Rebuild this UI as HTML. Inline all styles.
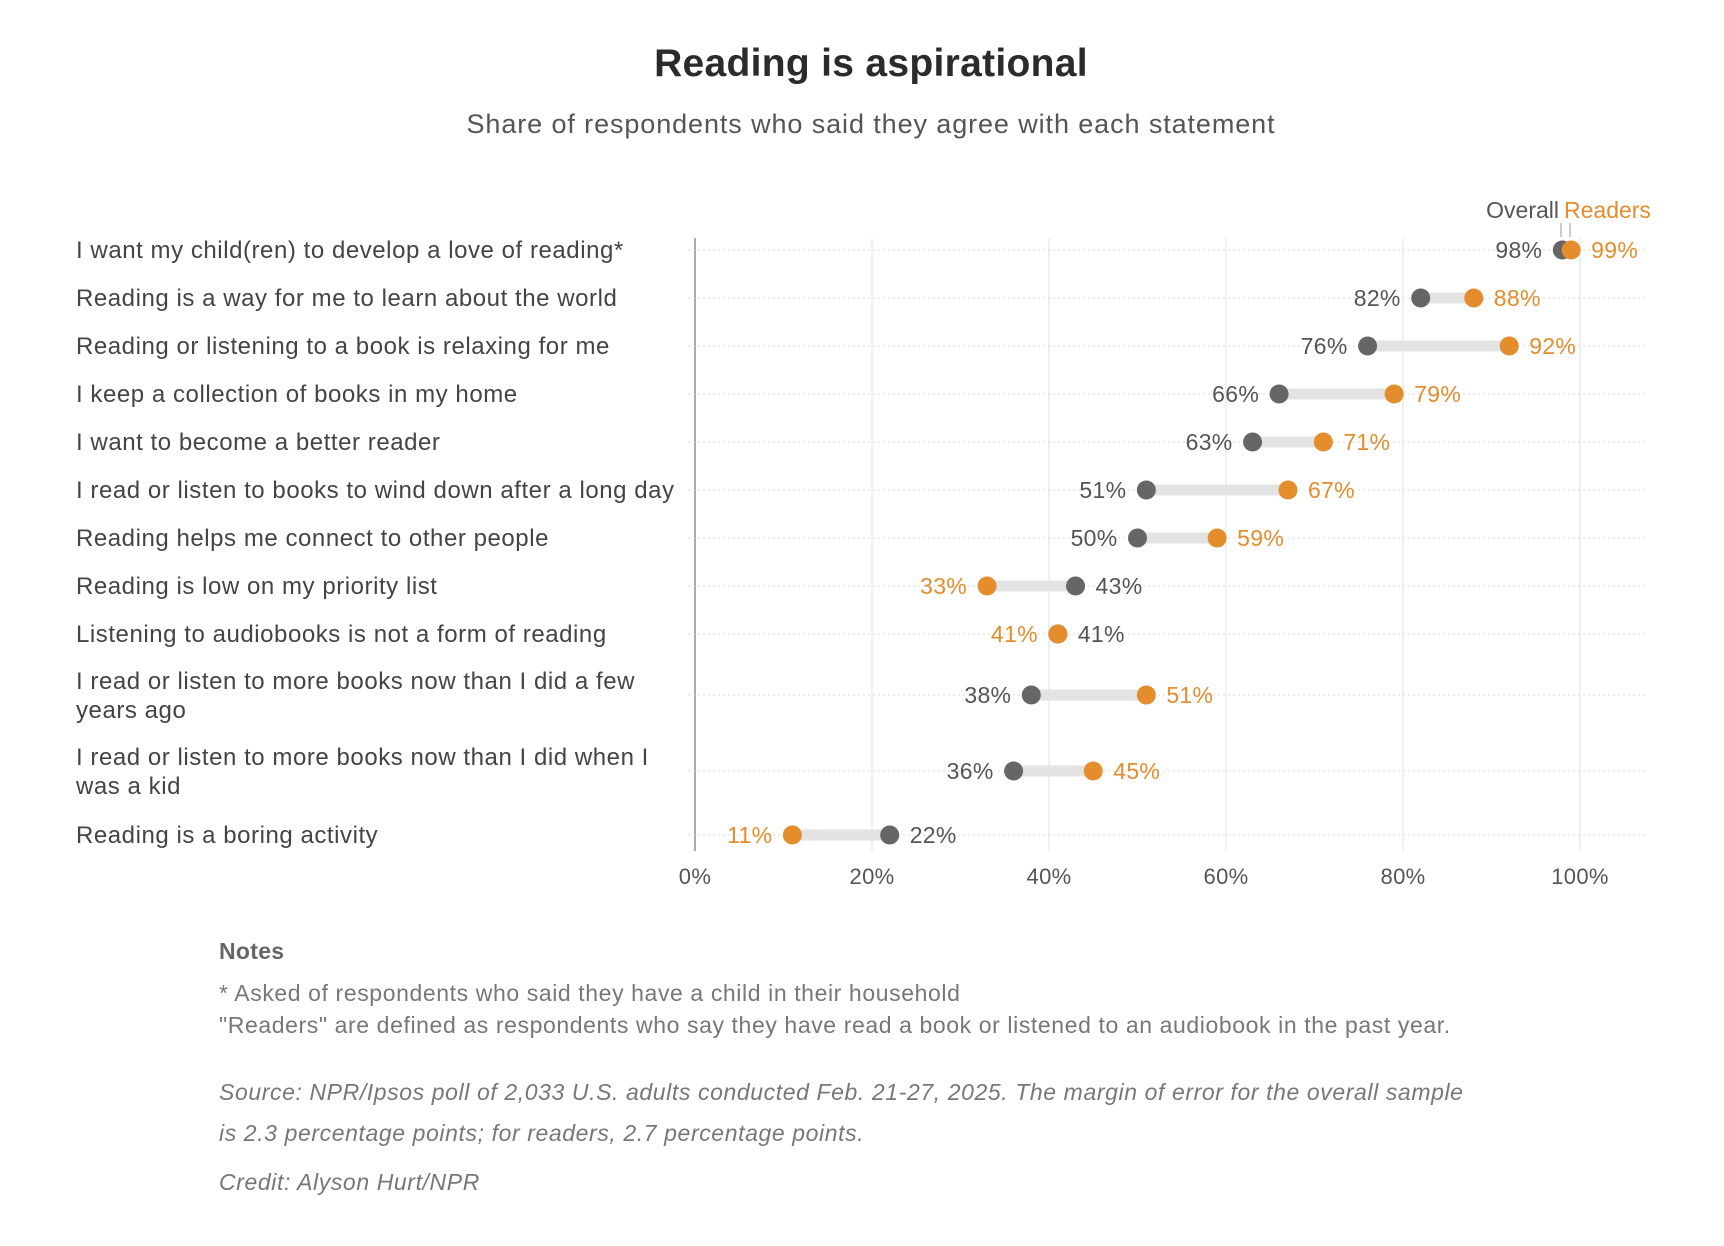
<!DOCTYPE html>
<html><head><meta charset="utf-8">
<style>
body{margin:0;background:#fff;font-family:"Liberation Sans",sans-serif;}
svg text{font-family:"Liberation Sans",sans-serif;}
</style></head>
<body>
<svg id="chart" width="1724" height="1241" viewBox="0 0 1724 1241" xmlns="http://www.w3.org/2000/svg">
<text x="871" y="76" text-anchor="middle" font-size="39" font-weight="bold" fill="#2b2b2b" letter-spacing="0.3">Reading is aspirational</text>
<text x="871" y="133" text-anchor="middle" font-size="27" fill="#555" letter-spacing="0.9">Share of respondents who said they agree with each statement</text>
<g>
<text x="1559" y="218" text-anchor="end" font-size="23" fill="#555">Overall</text>
<text x="1564" y="218" font-size="23" fill="#e38d2c">Readers</text>
<line x1="1561" y1="223" x2="1561" y2="237" stroke="#999" stroke-width="1"/>
<line x1="1570" y1="223" x2="1570" y2="237" stroke="#999" stroke-width="1"/>
</g>
<g id="grid"></g>
<g id="rows"></g>
<g id="xticks"></g>
<g font-size="23" fill="#777" letter-spacing="0.6">
<text x="219" y="959" font-weight="bold" fill="#666" letter-spacing="0.3">Notes</text>
<text x="219" y="1001">* Asked of respondents who said they have a child in their household</text>
<text x="219" y="1033">"Readers" are defined as respondents who say they have read a book or listened to an audiobook in the past year.</text>
<text x="219" y="1100" font-style="italic">Source: NPR/Ipsos poll of 2,033 U.S. adults conducted Feb. 21-27, 2025. The margin of error for the overall sample</text>
<text x="219" y="1141" font-style="italic">is 2.3 percentage points; for readers, 2.7 percentage points.</text>
<text x="219" y="1190" font-style="italic">Credit: Alyson Hurt/NPR</text>
</g>
</svg>
<script>
const categories=[
["I want my child(ren) to develop a love of reading*"],
["Reading is a way for me to learn about the world"],
["Reading or listening to a book is relaxing for me"],
["I keep a collection of books in my home"],
["I want to become a better reader"],
["I read or listen to books to wind down after a long day"],
["Reading helps me connect to other people"],
["Reading is low on my priority list"],
["Listening to audiobooks is not a form of reading"],
["I read or listen to more books now than I did a few","years ago"],
["I read or listen to more books now than I did when I","was a kid"],
["Reading is a boring activity"]];
const overall=[98,82,76,66,63,51,50,43,41,38,36,22];
const readers=[99,88,92,79,71,67,59,33,41,51,45,11];
const xTicks=[0,20,40,60,80,100];
const rowY=[250,298,346,394,442,490,538,586,634,695,771,835];

const NS="http://www.w3.org/2000/svg";
const x0=695,x1=1580;
function xs(v){return x0+(x1-x0)*v/100;}
function mk(tag,attrs,parent){const e=document.createElementNS(NS,tag);for(const k in attrs)e.setAttribute(k,attrs[k]);parent.appendChild(e);return e;}
const grid=document.getElementById('grid'),rows=document.getElementById('rows'),xt=document.getElementById('xticks');
xTicks.forEach(t=>{
  const l=mk('line',{x1:xs(t),x2:xs(t),y1:238,y2:851,stroke:t===0?'#aaa':'#e6e6e6','stroke-width':t===0?2:1.2},grid);
  
  
  const tx=mk('text',{x:xs(t),y:884,'text-anchor':'middle','font-size':22,fill:'#555','letter-spacing':0.3},xt);
  tx.textContent=t+'%';
  
  
});
categories.forEach((lines,i)=>{
  const y=rowY[i];
  const g=mk('g',{},rows);
  
  
  const dl=mk('line',{x1:688,x2:1646,y1:y,y2:y,stroke:'#d8d8d8','stroke-width':1,'stroke-dasharray':'2,3'},g);
  
  
  const lab=mk('text',{x:76,'font-size':24,fill:'#444','letter-spacing':0.55},g);
  
  
  const y0=lines.length>1?y-14+8:y+8;
  lines.forEach((ln,j)=>{const ts=mk('tspan',{x:76,y:y0+j*29},lab);ts.textContent=ln;});
  const o=overall[i],r=readers[i];
  const bar=mk('line',{x1:xs(o),x2:xs(r),y1:y,y2:y,stroke:'#e3e3e3','stroke-width':11},g);
  
  
  const dO=mk('circle',{cx:xs(o),cy:y,r:9.5,fill:'#666'},g);
  
  
  const dR=mk('circle',{cx:xs(r),cy:y,r:9.5,fill:'#e38d2c'},g);
  
  
  const readersLeft=r<=o;
  const lo=Math.min(o,r),hi=Math.max(o,r);
  const lt=mk('text',{x:xs(lo)-20,y:y+8,'text-anchor':'end','font-size':23,fill:readersLeft?'#e38d2c':'#555','letter-spacing':0.3},g);
  lt.textContent=(readersLeft?r:o)+'%';
  
  
  const rt=mk('text',{x:xs(hi)+20,y:y+8,'font-size':23,fill:readersLeft?'#555':'#e38d2c','letter-spacing':0.3},g);
  rt.textContent=(readersLeft?o:r)+'%';
  
  
});
</script>
</body></html>
